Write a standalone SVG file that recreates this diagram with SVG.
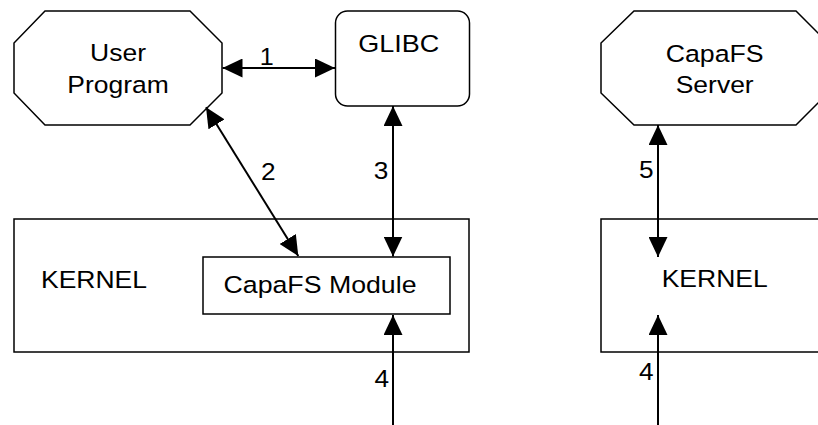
<svg xmlns="http://www.w3.org/2000/svg" width="818" height="425" viewBox="0 0 818 425">
<style>
.shape{fill:#fff;stroke:#000;stroke-width:1.5}
.conn{stroke:#000;stroke-width:2;fill:none}
text{font-family:"Liberation Sans",Arial,sans-serif;font-size:24.5px;fill:#000;text-anchor:middle}
</style>
<defs>
<marker id="ah" viewBox="0 0 20 19" markerUnits="userSpaceOnUse" markerWidth="20" markerHeight="19" refX="20" refY="9.5" orient="auto-start-reverse">
<path d="M0,0 L20,9.5 L0,19 z" fill="#000"/>
</marker>
</defs>
<rect width="818" height="425" fill="#fff"/>
<g id="kernel-left">
<rect class="shape" x="14" y="219" width="455" height="133"/>
<text x="94" y="288" textLength="106" lengthAdjust="spacingAndGlyphs">KERNEL</text>
</g>
<g id="capafs-module">
<rect class="shape" x="203" y="257" width="247" height="57"/>
<text x="320" y="293" textLength="193" lengthAdjust="spacingAndGlyphs">CapaFS Module</text>
</g>
<g id="user-program">
<polygon class="shape" points="45,11 190,11 222,43 222,93 190,125 45,125 14,93 14,43"/>
<text x="118" y="61" textLength="56" lengthAdjust="spacingAndGlyphs">User</text>
<text x="118" y="93" textLength="101.5" lengthAdjust="spacingAndGlyphs">Program</text>
</g>
<g id="glibc">
<rect class="shape" x="335.5" y="11" width="134" height="95" rx="12" ry="12"/>
<text x="398.8" y="52" textLength="81" lengthAdjust="spacingAndGlyphs">GLIBC</text>
</g>
<g id="capafs-server">
<polygon class="shape" points="634,11 796,11 828,43 828,93 796,125 634,125 601,93 601,43"/>
<text x="714.7" y="62" textLength="98" lengthAdjust="spacingAndGlyphs">CapaFS</text>
<text x="714.7" y="93" textLength="78" lengthAdjust="spacingAndGlyphs">Server</text>
</g>
<g id="kernel-right">
<rect class="shape" x="601" y="219" width="230" height="133"/>
<text x="714.7" y="287" textLength="106" lengthAdjust="spacingAndGlyphs">KERNEL</text>
</g>
<g id="connectors">
<line class="conn" x1="222.5" y1="68" x2="335" y2="68" marker-start="url(#ah)" marker-end="url(#ah)"/>
<line class="conn" x1="206" y1="107.3" x2="298.3" y2="256" marker-start="url(#ah)" marker-end="url(#ah)"/>
<line class="conn" x1="393" y1="106" x2="393" y2="256.5" marker-start="url(#ah)" marker-end="url(#ah)"/>
<line class="conn" x1="393" y1="425" x2="393" y2="315" marker-end="url(#ah)"/>
<line class="conn" x1="658" y1="125" x2="658" y2="257" marker-start="url(#ah)" marker-end="url(#ah)"/>
<line class="conn" x1="658" y1="425" x2="658" y2="315" marker-end="url(#ah)"/>
<text x="266.7" y="65" textLength="14" lengthAdjust="spacingAndGlyphs">1</text>
<text x="268.3" y="180" textLength="14.6" lengthAdjust="spacingAndGlyphs">2</text>
<text x="381" y="179" textLength="14.6" lengthAdjust="spacingAndGlyphs">3</text>
<text x="381.7" y="387" textLength="14.6" lengthAdjust="spacingAndGlyphs">4</text>
<text x="646.3" y="380" textLength="14.6" lengthAdjust="spacingAndGlyphs">4</text>
<text x="646.3" y="178" textLength="14.6" lengthAdjust="spacingAndGlyphs">5</text>
</g>
</svg>
